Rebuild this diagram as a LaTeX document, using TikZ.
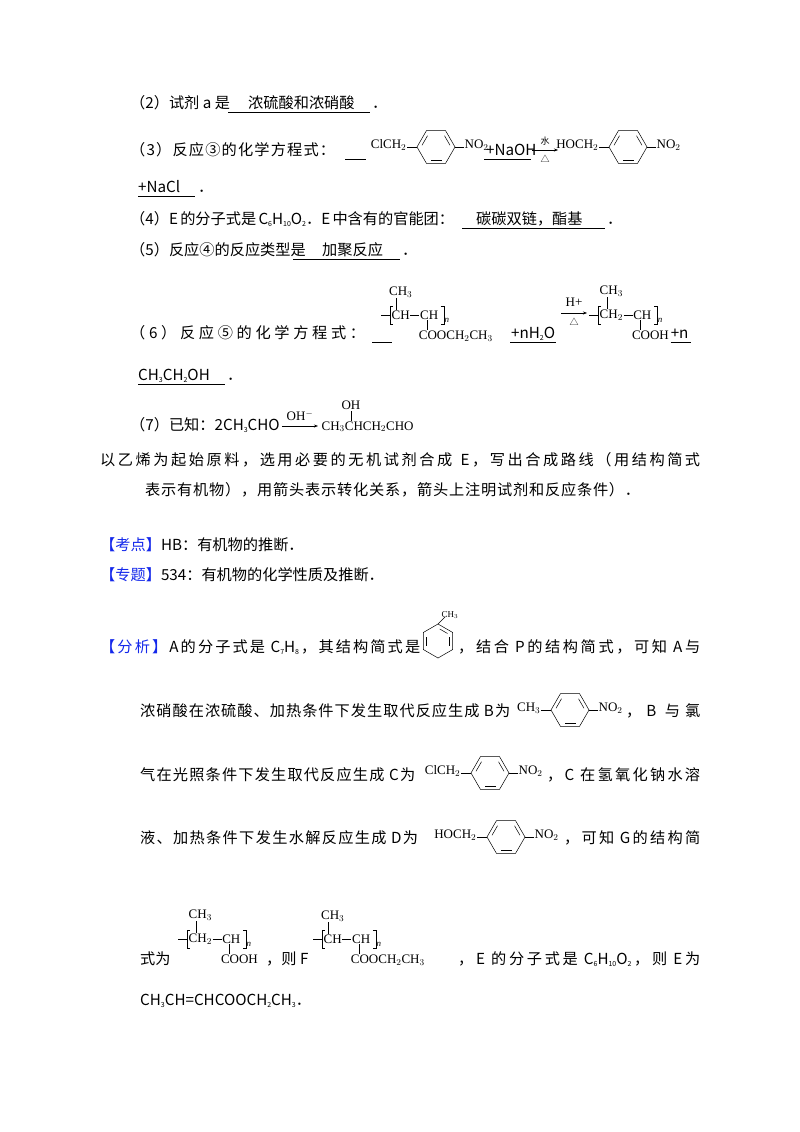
\documentclass[tikz,border=0pt]{standalone}
\usepackage{fontspec}
\setmainfont{Noto Sans CJK SC}
\newfontfamily\chemf{Liberation Serif}
\usetikzlibrary{calc,arrows.meta}
\ExplSyntaxOn
\NewDocumentCommand\spr{mm}{\makebox[#1][s]{\tl_map_inline:nn{#2}{##1\hfil}\unskip}}
\ExplSyntaxOff
\definecolor{kblue}{RGB}{20,40,235}
\newcommand\tri{{\rmfamily\fontsize{9}{10}\selectfont △}}
\newcommand\bl[1]{\textcolor{kblue}{#1}}
\newcommand\sbs[1]{\raisebox{-2pt}{\scriptsize#1}}
\tikzset{
  t/.style={anchor=base west,inner sep=0pt,font=\fontsize{15.2}{18}\selectfont},
  chem/.style={inner sep=0.5pt,font=\chemf\fontsize{13}{15}\selectfont},
  ul/.style={line width=0.6pt},
  rxn/.style={-{Stealth[length=4pt,width=3pt]},line width=0.5pt},
  ringh/.pic={
    \draw[line width=0.5pt] (0:19)--(60:19)--(120:19)--(180:19)--(240:19)--(300:19)--cycle;
    \draw[line width=0.5pt,shorten <=2pt,shorten >=2pt] (60:15)--(120:15);
    \draw[line width=0.5pt,shorten <=2pt,shorten >=2pt] (180:15)--(240:15);
    \draw[line width=0.5pt,shorten <=2pt,shorten >=2pt] (300:15)--(0:15);
  },
  ringv/.pic={
    \draw[line width=0.5pt] (30:17)--(90:17)--(150:17)--(210:17)--(270:17)--(330:17)--cycle;
    \draw[line width=0.5pt,shorten <=2pt,shorten >=2pt] (30:13)--(330:13);
    \draw[line width=0.5pt,shorten <=2pt,shorten >=2pt] (150:13)--(210:13);
    \draw[line width=0.5pt,shorten <=2pt,shorten >=2pt] (270:13)--(330:13);
  }
}
\newcommand\pring[3]{%
  \pic at (#1,#2) {ringh};
  \node[chem,anchor=east] at (#1-29,#2-2) {#3};
  \draw[line width=0.5pt] (#1-29,#2)--(#1-19,#2);
  \draw[line width=0.5pt] (#1+19,#2)--(#1+28,#2);
  \node[chem,anchor=west] at (#1+28,#2-2) {NO$_2$};}
\newcommand\poly[6]{%
  \draw[line width=0.6pt] (#1-9,#2)--(#1,#2);
  \draw[line width=0.8pt] (#1+3,#2-9)--(#1,#2-9)--(#1,#2+9)--(#1+3,#2+9);
  \node[chem,anchor=west] (#6f) at (#1+1,#2) {#3};
  \draw[line width=0.5pt] (#6f.east)--++(9,0) coordinate (#6m);
  \node[chem,anchor=west] (#6s) at (#6m) {#4};
  \draw[line width=0.8pt] ($(#6s.east)+(2,-9)$)--++(3,0)--++(0,18)--++(-3,0);
  \node[chem,anchor=west,font=\chemf\itshape\fontsize{9}{10}\selectfont] at ($(#6s.east)+(5,5)$) {n};
  \draw[line width=0.5pt] ($(#6f.north)+(-4,0)$)--++(0,-12) coordinate (#6u);
  \node[chem,anchor=south] at ($(#6u)+(4,0)$) {CH$_3$};
  \draw[line width=0.5pt] ($(#6s.south)+(-2,0)$)--++(0,10) coordinate (#6d);
  \node[chem,anchor=north west] (#6c) at ($(#6d)+(-9,0)$) {#5};}
\begin{document}
\begin{tikzpicture}[x=1pt,y=-1pt]
\useasboundingbox (0,0) rectangle (800,1132);
\fill[white] (0,0) rectangle (800,1132);
% (2)
\node[t] at (130,108) {（2）试剂 a 是};
\node[t] at (248,108) {浓硫酸和浓硝酸};
\draw[ul] (228,112)--(370,112);
\node[t] at (372,108) {．};
% (3)
\node[t] at (130,155) {\spr{205pt}{（3）反应③的化学方程式：}};
\draw[ul] (345,159)--(366,159);
\pring{436}{147}{ClCH$_2$}
\node[t] at (486,155) {+NaOH};
\draw[ul] (484,159)--(531,159);
\draw[rxn] (532,150)--(558,150);
\node[inner sep=0pt,font=\fontsize{9}{10}\selectfont] at (545,141) {水};
\node[inner sep=0pt] at (545,159) {\tri};
\pring{628}{147}{HOCH$_2$}
\node[t] at (138,192) {+NaCl};
\draw[ul] (138,196)--(195,196);
\node[t] at (198,192) {．};
% (4)
\node[t] at (130,224) {\spr{320pt}{（4）E{ }的分子式是{ }{C\sbs6H\sbs{10}O\sbs2}．E{ }中含有的官能团：}};
\draw[ul] (462,228)--(605,228);
\node[t] at (476,224) {碳碳双链，酯基};
\node[t] at (607,224) {．};
% (5)
\node[t] at (130,255) {\spr{160pt}{（5）反应④的反应类型是}};
\draw[ul] (293,259)--(400,259);
\node[t] at (322,255) {加聚反应};
\node[t] at (402,255) {．};
% (6)
\node[t] at (130,338) {\spr{235pt}{（6）反应⑤的化学方程式：}};
\draw[ul] (372,342)--(392,342);
\poly{390}{315}{CH}{CH}{COOCH$_2$CH$_3$}{pa}
\node[t] at (511,338) {+nH\sbs2O};
\draw[ul] (510,342)--(556,342);
\draw[rxn] (561,313)--(587,313);
\node[chem] at (574,302) {H+};
\node[inner sep=0pt] at (574,322) {\tri};
\poly{598}{315}{CH$_2$}{CH}{COOH}{pb}
\node[t] (pn) at ([xshift=1pt]pbc.east |- 0,338) {+n};
\draw[ul] ([xshift=1pt]pbc.east |- 0,342)--++(20,0);
\node[t] at (138,380) {CH\sbs3CH\sbs2OH};
\draw[ul] (138,384)--(225,384);
\node[t] at (227,380) {．};
% (7)
\node[t] (k7) at (130,430) {（7）已知：2CH\sbs3CHO};
\draw[rxn] ([xshift=2pt]k7.east |- 0,426)--++(36,0) coordinate (k7a);
\node[chem] at ($(k7a)+(-18,-10)$) {OH$^-$};
\node[chem,anchor=base west] (p7) at ($(k7a |- 0,430)+(3,0)$) {CH$_3$CHCH$_2$CHO};
\draw[line width=0.5pt] ($(p7.north west)+(30,0)$)--++(0,-10) coordinate (k7o);
\node[chem,anchor=south] at (k7o) {OH};
\node[t] at (100,465) {\spr{600pt}{以乙烯为起始原料，选用必要的无机试剂合成{ }E，写出合成路线（用结构简式}};
\node[t] at (145,495) {\spr{495pt}{表示有机物），用箭头表示转化关系，箭头上注明试剂和反应条件）．}};
% kaodian
\node[t] at (100,550) {\bl{【考点】}HB：有机物的推断．};
\node[t] at (100,580) {\bl{【专题】}534：有机物的化学性质及推断．};
% analysis
\node[t] at (100,652) {\spr{320pt}{{\bl{【}}{\bl{分}}{\bl{析}}{\bl{】}}A的分子式是{ C\sbs7H\sbs8}，其结构简式是}};
\pic at (438,641) {ringv};
\draw[line width=0.5pt] (438,624)--(445,617);
\node[chem,anchor=south west,font=\chemf\fontsize{9}{10}\selectfont] at (441,619) {CH$_3$};
\node[t] at (458,652) {\spr{242pt}{，结合{ P}的结构简式，可知{ A}与}};
\node[t] at (140,716) {\spr{370pt}{浓硝酸在浓硫酸、加热条件下发生取代反应生成{ B}为}};
\pring{570}{710}{CH$_3$}
\node[t] at (626,716) {\spr{74pt}{，{B }与氯}};
\node[t] at (140,780) {\spr{275pt}{气在光照条件下发生取代反应生成{ C}为}};
\pring{490}{773}{ClCH$_2$}
\node[t] at (547,780) {\spr{153pt}{，{C }在氢氧化钠水溶}};
\node[t] at (140,843) {\spr{278pt}{液、加热条件下发生水解反应生成{ D}为}};
\pring{506}{837}{HOCH$_2$}
\node[t] at (564,843) {\spr{136pt}{，可知{ G}的结构简}};
\node[t] at (140,964) {式为};
\poly{187}{939}{CH$_2$}{CH}{COOH}{pc}
\node[t] at (266,964) {，则 F};
\poly{322}{939}{CH}{CH}{COOCH$_2$CH$_3$}{pd}
\node[t] at (458,964) {\spr{242pt}{，{E }的分子式是{ C\sbs6H\sbs{10}O\sbs2}，则{ E}为}};
\node[t] at (140,1005) {CH\sbs3CH=CHCOOCH\sbs2CH\sbs3．};
\end{tikzpicture}
\end{document}
